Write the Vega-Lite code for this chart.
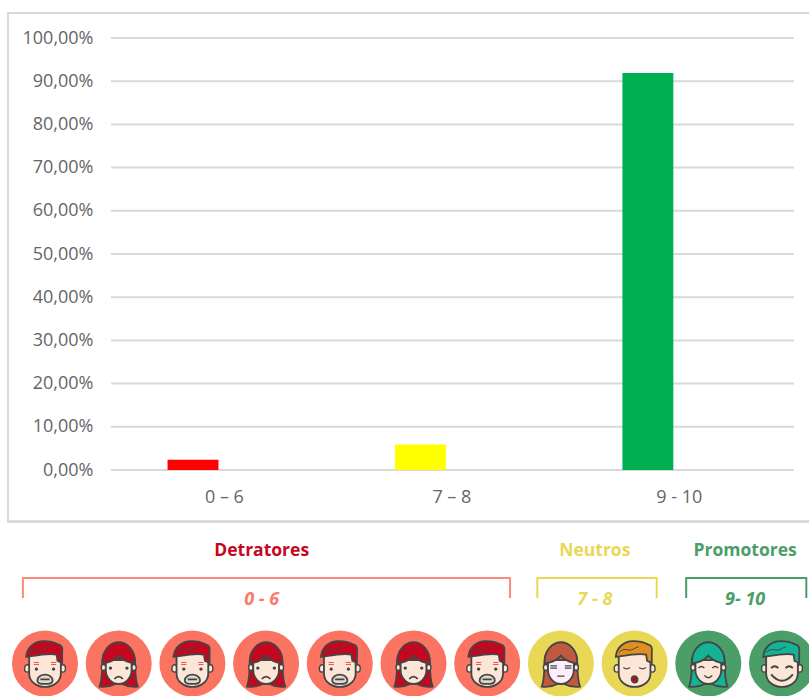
{"$schema":"https://vega.github.io/schema/vega-lite/v6.json","width":809,"height":696,"autosize":"none","padding":0,"background":"white",
"config":{"view":{"stroke":null},"point":{"opacity":1,"size":4356,"strokeWidth":1.8,"stroke":"#454545"}},
"datasets":{
"bars":[{"faixa":"0 – 6","serie":"A","pct":2.4},{"faixa":"7 – 8","serie":"A","pct":5.9},{"faixa":"9 - 10","serie":"A","pct":91.9}],
"ticks":[{"t":0},{"t":10},{"t":20},{"t":30},{"t":40},{"t":50},{"t":60},{"t":70},{"t":80},{"t":90},{"t":100}],
"groups":[{"group":"Detratores","range":"0 - 6","center":3.94,"from":0.7,"to":7.31},{"group":"Neutros","range":"7 - 8","center":8.46,"from":7.68,"to":9.3},{"group":"Promotores","range":"9- 10","center":10.5,"from":9.7,"to":11.33}],
"faces":[{"seat":1,"group":"Detratores","face":"det-m"},{"seat":2,"group":"Detratores","face":"det-f"},{"seat":3,"group":"Detratores","face":"det-m"},{"seat":4,"group":"Detratores","face":"det-f"},{"seat":5,"group":"Detratores","face":"det-m"},{"seat":6,"group":"Detratores","face":"det-f"},{"seat":7,"group":"Detratores","face":"det-m"},{"seat":8,"group":"Neutros","face":"neu-f"},{"seat":9,"group":"Neutros","face":"neu-m"},{"seat":10,"group":"Promotores","face":"pro-f"},{"seat":11,"group":"Promotores","face":"pro-m"}]
},
"resolve":{"scale":{"x":"independent","y":"independent"}},
"layer":[
{"data":{"name":"ticks"},
 "layer":[
 {"mark":{"type":"rect","fill":"transparent","stroke":"#d9d9d9","strokeWidth":2},
  "encoding":{"x":{"datum":-0.1508,"type":"quantitative","scale":{"domain":[0,1],"range":[111,794],"nice":false,"zero":false},"axis":null},"x2":{"datum":1.03},
   "y":{"datum":105.8,"type":"quantitative","scale":{"domain":[0,100],"range":[470,38],"nice":false,"zero":false},"axis":{"values":[0,10,20,30,40,50,60,70,80,90,100],"orient":"left","offset":-93,"title":null,"domain":false,"ticks":false,"grid":false,"labelPadding":0,"labelFont":"Open Sans","labelFontSize":18,"labelColor":"#666666","labelExpr":"replace(format(datum.value,'.2f'),'.',',')+'%'"}},"y2":{"datum":-11.97}}},
 {"mark":{"type":"rule","stroke":"#d9d9d9","strokeWidth":2},
  "encoding":{"x":{"datum":0,"type":"quantitative"},"x2":{"datum":1},"y":{"field":"t","type":"quantitative"}}}
 ]},
{"data":{"name":"bars"},"mark":{"type":"bar"},
 "encoding":{
  "x":{"field":"faixa","type":"nominal","sort":null,"scale":{"domain":["0 – 6","7 – 8","9 - 10"],"range":[110.7,793],"paddingInner":0.5,"paddingOuter":0.25},"axis":{"orient":"bottom","offset":-208,"title":null,"domain":false,"ticks":false,"grid":false,"labelAngle":0,"labelPadding":0,"labelFont":"Open Sans","labelFontSize":18,"labelColor":"#666666"}},
  "xOffset":{"field":"serie","type":"nominal","scale":{"domain":["A","B"],"paddingInner":0.19,"paddingOuter":0}},
  "y":{"field":"pct","type":"quantitative","scale":{"domain":[0,100],"range":[470,38],"nice":false,"zero":false},"axis":null},
  "color":{"field":"faixa","type":"nominal","scale":{"domain":["0 – 6","7 – 8","9 - 10"],"range":["#ff0000","#ffff00","#00b050"]},"legend":null}}},
{"data":{"name":"faces"},
 "resolve":{"scale":{"fill":"independent","stroke":"independent","color":"independent"}},
 "encoding":{"x":{"field":"seat","type":"quantitative","scale":{"domain":[1,11],"range":[45,782],"nice":false,"zero":false},"axis":null},
  "y":{"datum":1,"type":"quantitative","scale":{"domain":[0,1],"range":[551,663.5],"nice":false,"zero":false},"axis":null}},
 "layer":[
 {"data":{"name":"groups"},"mark":{"type":"text","font":"Open Sans","fontWeight":"bold","fontSize":17.5},
  "encoding":{"x":{"field":"center","type":"quantitative"},"y":{"datum":0,"type":"quantitative"},"text":{"field":"group"},"color":{"field":"group","type":"nominal","scale":{"domain":["Detratores","Neutros","Promotores"],"range":["#c4071f","#e8d855","#4b9e68"]},"legend":null}}},
 {"data":{"name":"groups"},"mark":{"type":"text","font":"Open Sans","fontWeight":"bold","fontStyle":"italic","fontSize":18},
  "encoding":{"x":{"field":"center","type":"quantitative"},"y":{"datum":0.436,"type":"quantitative"},"text":{"field":"range"},"color":{"field":"group","type":"nominal","scale":{"domain":["Detratores","Neutros","Promotores"],"range":["#fb7a68","#e8d855","#4b9e68"]},"legend":null}}},
 {"data":{"name":"groups"},"mark":{"type":"rule","strokeWidth":2,"strokeCap":"round"},
  "encoding":{"x":{"field":"from","type":"quantitative"},"x2":{"field":"to"},"y":{"datum":0.24,"type":"quantitative"},"stroke":{"field":"group","type":"nominal","scale":{"domain":["Detratores","Neutros","Promotores"],"range":["#fb8a7a","#e8d855","#4b9e68"]},"legend":null}}},
 {"data":{"name":"groups"},"mark":{"type":"rule","strokeWidth":2},
  "encoding":{"x":{"field":"from","type":"quantitative"},"y":{"datum":0.24,"type":"quantitative"},"y2":{"datum":0.418},"stroke":{"field":"group","type":"nominal","scale":{"domain":["Detratores","Neutros","Promotores"],"range":["#fb8a7a","#e8d855","#4b9e68"]},"legend":null}}},
 {"data":{"name":"groups"},"mark":{"type":"rule","strokeWidth":2},
  "encoding":{"x":{"field":"to","type":"quantitative"},"y":{"datum":0.24,"type":"quantitative"},"y2":{"datum":0.418},"stroke":{"field":"group","type":"nominal","scale":{"domain":["Detratores","Neutros","Promotores"],"range":["#fb8a7a","#e8d855","#4b9e68"]},"legend":null}}},
 {"mark":{"type":"point","shape":"circle","size":4356,"filled":true,"stroke":null},
  "encoding":{"fill":{"field":"group","type":"nominal","scale":{"domain":["Detratores","Neutros","Promotores"],"range":["#fb7361","#e8d855","#4b9e68"]},"legend":null}}},
 {"transform":[{"filter":"indexof(datum.face,'-f')>0"}],"mark":{"type":"point","filled":true,"shape":"M-0.58,0.7 C-0.5,0.5 -0.5,0.3 -0.5,0 C-0.5,-0.4 -0.25,-0.64 0,-0.64 C0.25,-0.64 0.5,-0.4 0.5,0 C0.5,0.3 0.5,0.5 0.58,0.7 C0.4,0.72 0.25,0.7 0.1,0.62 L-0.1,0.62 C-0.25,0.7 -0.4,0.72 -0.58,0.7 Z"},
  "encoding":{"fill":{"field":"face","type":"nominal","scale":{"domain":["det-f","neu-f","pro-f"],"range":["#c4071f","#c05a3e","#12b495"]},"legend":null}}},
 {"transform":[{"filter":"indexof(datum.face,'-f')>0"}],"mark":{"type":"point","filled":true,"fill":"#fbe6d8","strokeWidth":1.4,"shape":"M-0.53,0.12 A0.07,0.09 0 1 1 -0.39,0.12 A0.07,0.09 0 1 1 -0.53,0.12 Z M0.39,0.12 A0.07,0.09 0 1 1 0.53,0.12 A0.07,0.09 0 1 1 0.39,0.12 Z"}},
 {"transform":[{"filter":"indexof(datum.face,'-f')>0"}],"mark":{"type":"point","filled":true,"shape":"M-0.39,-0.1 L-0.39,0.2 C-0.39,0.45 -0.2,0.62 0,0.62 C0.2,0.62 0.39,0.45 0.39,0.2 L0.39,-0.1 Z"},
  "encoding":{"fill":{"field":"face","type":"nominal","scale":{"domain":["det-f","neu-f","pro-f"],"range":["#fbe6d8","#fdeefb","#fbe6d8"]},"legend":null}}},
 {"transform":[{"filter":"indexof(datum.face,'-f')>0"}],"mark":{"type":"point","filled":true,"shape":"M-0.49,0 C-0.52,-0.4 -0.25,-0.64 0,-0.64 C0.25,-0.64 0.52,-0.4 0.49,0 C0.3,-0.03 0.1,-0.12 0,-0.24 C-0.1,-0.12 -0.3,-0.03 -0.49,0 Z"},
  "encoding":{"fill":{"field":"face","type":"nominal","scale":{"domain":["det-f","neu-f","pro-f"],"range":["#c4071f","#c05a3e","#12b495"]},"legend":null}}},
 {"transform":[{"filter":"indexof(datum.face,'-m')>0"}],"mark":{"type":"point","filled":true,"fill":"#fbe6d8","strokeWidth":1.4,"shape":"M-0.62,0.15 A0.08,0.11 0 1 1 -0.46,0.15 A0.08,0.11 0 1 1 -0.62,0.15 Z M0.46,0.15 A0.08,0.11 0 1 1 0.62,0.15 A0.08,0.11 0 1 1 0.46,0.15 Z"}},
 {"transform":[{"filter":"indexof(datum.face,'-m')>0"}],"mark":{"type":"point","filled":true,"fill":"#fbe6d8","shape":"M-0.48,-0.3 L-0.48,0.3 C-0.48,0.55 -0.25,0.71 0,0.71 C0.25,0.71 0.48,0.55 0.48,0.3 L0.48,-0.3 Z"}},
 {"transform":[{"filter":"indexof(datum.face,'-m')>0"}],"mark":{"type":"point","filled":true,"shape":"M-0.57,-0.2 C-0.55,-0.5 -0.3,-0.68 -0.05,-0.68 C0.1,-0.68 0.3,-0.64 0.4,-0.58 C0.52,-0.56 0.54,-0.45 0.52,-0.35 L0.52,-0.02 L0.38,-0.08 L0.35,-0.27 C0.1,-0.33 -0.3,-0.24 -0.57,-0.2 Z"},
  "encoding":{"fill":{"field":"face","type":"nominal","scale":{"domain":["det-m","neu-m","pro-m"],"range":["#c4071f","#e0901f","#12b495"]},"legend":null}}},
 {"transform":[{"filter":"indexof(datum.face,'-m')>0"}],"mark":{"type":"point","filled":false,"fill":"transparent","strokeWidth":1,"shape":"M-0.48,-0.33 C-0.32,-0.5 -0.22,-0.38 -0.1,-0.41 C0,-0.44 0.05,-0.5 0.12,-0.5"}},
 {"transform":[{"filter":"datum.face=='det-m'"}],"mark":{"type":"point","filled":false,"fill":"transparent","stroke":"#f0453f","strokeWidth":0.9,"shape":"M-0.34,-0.03 L-0.18,-0.03 M-0.34,0.03 L-0.18,0.03 M0.18,-0.03 L0.34,-0.03 M0.18,0.03 L0.34,0.03"}},
 {"transform":[{"filter":"datum.face=='det-m'"}],"mark":{"type":"point","filled":true,"fill":"#454545","stroke":null,"shape":"M-0.31,0.17 A0.05,0.05 0 1 1 -0.21,0.17 A0.05,0.05 0 1 1 -0.31,0.17 Z M0.21,0.17 A0.05,0.05 0 1 1 0.31,0.17 A0.05,0.05 0 1 1 0.21,0.17 Z"}},
 {"transform":[{"filter":"datum.face=='det-m'"}],"mark":{"type":"point","filled":true,"fill":"#e4d8cc","shape":"M-0.23,0.52 C-0.23,0.4 -0.12,0.34 0,0.34 C0.12,0.34 0.23,0.4 0.23,0.52 C0.23,0.6 0.15,0.62 0,0.62 C-0.15,0.62 -0.23,0.6 -0.23,0.52 Z M-0.14,0.48 L0.14,0.48"}},
 {"transform":[{"filter":"datum.face=='det-f'"}],"mark":{"type":"point","filled":true,"fill":"#454545","stroke":null,"shape":"M-0.3,0.14 A0.05,0.05 0 1 1 -0.2,0.14 A0.05,0.05 0 1 1 -0.3,0.14 Z M0.2,0.14 A0.05,0.05 0 1 1 0.3,0.14 A0.05,0.05 0 1 1 0.2,0.14 Z"}},
 {"transform":[{"filter":"datum.face=='det-f'"}],"mark":{"type":"point","filled":false,"fill":"transparent","shape":"M-0.13,0.47 Q0,0.32 0.13,0.47"}},
 {"transform":[{"filter":"datum.face=='neu-f'"}],"mark":{"type":"point","filled":false,"fill":"transparent","strokeWidth":1.2,"shape":"M-0.32,0.07 L-0.12,0.07 M-0.32,0.14 L-0.12,0.14 M0.12,0.07 L0.32,0.07 M0.12,0.14 L0.32,0.14 M-0.11,0.38 L0.11,0.38"}},
 {"transform":[{"filter":"datum.face=='neu-m'"}],"mark":{"type":"point","filled":false,"fill":"transparent","strokeWidth":1.2,"shape":"M-0.34,0.12 Q-0.24,0.2 -0.14,0.12 M0.14,0.12 Q0.24,0.2 0.34,0.12"}},
 {"transform":[{"filter":"datum.face=='neu-m'"}],"mark":{"type":"point","filled":true,"fill":"#c4071f","shape":"M-0.09,0.48 A0.09,0.1 0 1 1 0.09,0.48 A0.09,0.1 0 1 1 -0.09,0.48 Z"}},
 {"transform":[{"filter":"datum.face=='pro-f'"}],"mark":{"type":"point","filled":false,"fill":"transparent","strokeWidth":1.4,"shape":"M-0.3,0.14 Q-0.21,0.04 -0.12,0.14 M0.12,0.14 Q0.21,0.04 0.3,0.14 M-0.12,0.36 Q0,0.5 0.12,0.36"}},
 {"transform":[{"filter":"datum.face=='pro-m'"}],"mark":{"type":"point","filled":false,"fill":"transparent","strokeWidth":2,"shape":"M-0.33,0.14 Q-0.22,0.02 -0.11,0.14 M0.11,0.14 Q0.22,0.02 0.33,0.14 M-0.33,0.33 Q0,0.72 0.33,0.33"}}
 ]}
]}
